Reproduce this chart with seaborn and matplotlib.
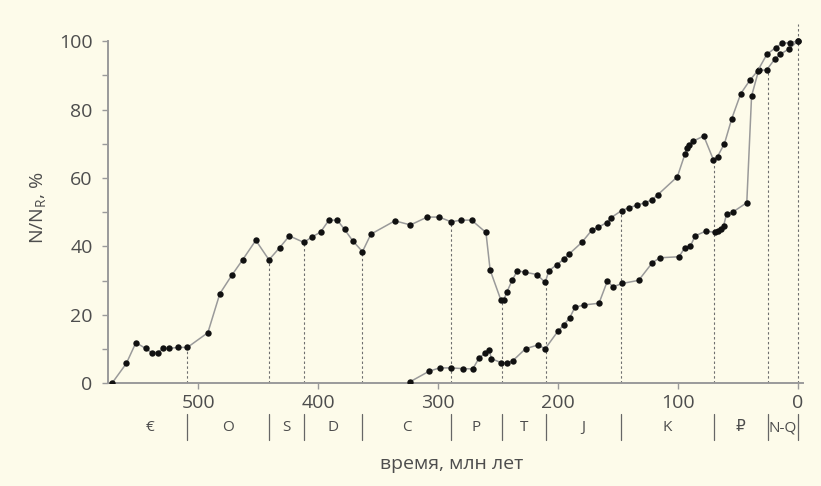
import numpy as np
import pandas as pd
import seaborn as sns
import matplotlib
matplotlib.use("Agg")
import matplotlib.pyplot as plt
import matplotlib.transforms as mtransforms

# ---------------- data ----------------
upper_ma = [572, 560, 552, 544, 539, 534, 529, 524, 517, 509,
            492, 482, 472, 463, 452, 441, 432, 424, 412, 405,
            398, 391, 384, 378, 371, 363, 356, 336, 323, 309,
            299, 289, 281, 272, 260, 256.5, 247.6, 245.1, 242.6, 238.1,
            233.7, 227.8, 217.5, 210.6, 207.5, 200.8, 195, 190.3, 180, 171.6,
            166.3, 159.3, 155.7, 146.8, 140.9, 133.7, 127.3, 121.7, 116.7, 100.3,
            94.1, 92.2, 90.7, 87.1, 78.3, 70.2, 66.8, 61, 54.9, 47.4,
            39.6, 33.4, 25.6, 18.4, 12.9, 6.4, 0]
upper_val = [0, 5.8, 11.9, 10.2, 9.0, 9.0, 10.2, 10.2, 10.5, 10.5,
             14.8, 26.2, 31.6, 36.1, 41.8, 36.1, 39.7, 43.1, 41.2, 42.8,
             44.2, 47.7, 47.7, 45.0, 41.6, 38.5, 43.6, 47.5, 46.3, 48.6,
             48.6, 47.2, 47.7, 47.7, 44.1, 33.1, 24.4, 24.4, 26.6, 30.2,
             32.9, 32.5, 31.8, 29.5, 32.9, 34.7, 36.3, 37.9, 41.2, 44.8,
             45.6, 47.0, 48.4, 50.5, 51.3, 52.1, 52.8, 53.6, 55.1, 60.4,
             66.9, 68.8, 69.8, 70.8, 72.3, 65.3, 66.3, 70.1, 77.4, 84.7,
             88.7, 91.3, 96.2, 98.1, 99.4, 99.6, 100]

lower_ma = [323, 307.6, 298.7, 289.4, 279.5, 271, 265.7, 260.4, 257.4, 255.4,
            247.1, 242.3, 237.6, 227, 216.7, 210.6, 200, 195.3, 190.2, 185.8,
            178.3, 165.7, 158.7, 154, 146.2, 132.6, 121.1, 114.8, 98.9, 94.2,
            89.6, 85.5, 76.6, 68.5, 66, 63.5, 61.8, 59.3, 53.5, 42.4,
            38.4, 32.5, 25.9, 19.2, 14.5, 7, 0]
lower_val = [0.5, 3.5, 4.5, 4.5, 4.3, 4.2, 7.4, 8.9, 9.8, 7.2,
             6.0, 6.0, 6.6, 10.1, 11.2, 10.1, 15.2, 17.0, 19.1, 22.2,
             22.9, 23.4, 29.9, 28.2, 29.2, 30.1, 35.3, 36.7, 37.0, 39.6,
             40.0, 43.1, 44.5, 44.1, 44.6, 45.1, 46.0, 49.4, 50.2, 52.8,
             84.0, 91.5, 91.6, 94.7, 96.2, 97.8, 100]

period_edges = [572, 509, 441, 412, 363, 289, 247, 210, 147, 70, 25, 0]
period_labels = ['€', 'O', 'S', 'D', 'C', 'P', 'T', 'J', 'K', '₽', 'N-Q']
boundary_tops = [10.5, 36.1, 41.2, 38.5, 47.2, 24.4, 29.5, 50.5, 65.3, 91.6, 105]

x_ticks = [500, 400, 300, 200, 100, 0]
y_ticks = [0, 20, 40, 60, 80, 100]

# ---------------- style ----------------
sns.set_theme(style="white")
BG = "#fdfbea"
TXT = "#4d4d4d"
GRID = "#9a9a9a"
plt.rcParams['font.family'] = ['Open Sans', 'DejaVu Sans']
plt.rcParams['mathtext.default'] = 'regular'

fig = plt.figure(figsize=(8.21, 4.86), dpi=100, facecolor=BG)
ax = fig.add_axes([108 / 821, 102.7 / 486, 695 / 821, 0.739])
ax.set_facecolor(BG)

df = pd.concat([
    pd.DataFrame({'Ma': upper_ma, 'val': upper_val, 'series': 'upper'}),
    pd.DataFrame({'Ma': lower_ma, 'val': lower_val, 'series': 'lower'}),
], ignore_index=True)

sns.lineplot(data=df, x='Ma', y='val', units='series', estimator=None, sort=False,
             color='#9a9a9a', lw=1.1, marker='o', markersize=4.6,
             markerfacecolor='#111111', markeredgecolor='#111111', markeredgewidth=0,
             ax=ax, legend=False, zorder=3)

# dashed boundary lines
for b, top in zip(period_edges[1:], boundary_tops):
    ax.plot([b, b], [0, top], ls=(0, (2.2, 2.2)), color='#6e6e6e', lw=0.8, zorder=2,
            clip_on=False)

ax.set_xlim(575.3, -4.5)
ax.set_ylim(0, 105)

for s in ['top', 'right']:
    ax.spines[s].set_visible(False)
for s in ['left', 'bottom']:
    ax.spines[s].set_color(GRID)
    ax.spines[s].set_linewidth(1.4)
ax.spines['left'].set_bounds(0, 100)

ax.set_xticks(x_ticks)
ax.set_xticklabels([str(t) for t in x_ticks])
ax.set_yticks(y_ticks)
ax.set_yticklabels([str(t) for t in y_ticks])
ax.set_yticks([10, 30, 50, 70, 90], minor=True)
ax.tick_params(axis='x', which='major', direction='out', length=4, width=1, color=GRID,
               labelsize=14, labelcolor=TXT, pad=4, bottom=True)
ax.tick_params(axis='y', which='both', direction='out', length=4, width=1, color=GRID,
               labelsize=14, labelcolor=TXT, pad=7, left=True)

ax.set_xlabel('')
ax.set_ylabel(r'N/N$_{R}$, %', fontsize=14, color=TXT)
ax.yaxis.set_label_coords(-0.086, 51.5 / 105)

# period strip under the axis
trans = mtransforms.blended_transform_factory(ax.transData, ax.transAxes)
for b in period_edges[1:]:
    ax.plot([b, b], [-0.086, -0.158], color='#666666', lw=0.9, transform=trans, clip_on=False)
for lab, a, b in zip(period_labels, period_edges[:-1], period_edges[1:]):
    ax.text((a + b) / 2, -0.124, lab, transform=trans, ha='center', va='center',
            fontsize=11, color=TXT, family=['Open Sans', 'DejaVu Sans'])

fig.text(452 / 821, 1 - 464 / 486, 'время, млн лет', ha='center', va='center',
         fontsize=14, color=TXT)

fig.savefig('out.png', dpi=100, facecolor=BG)
